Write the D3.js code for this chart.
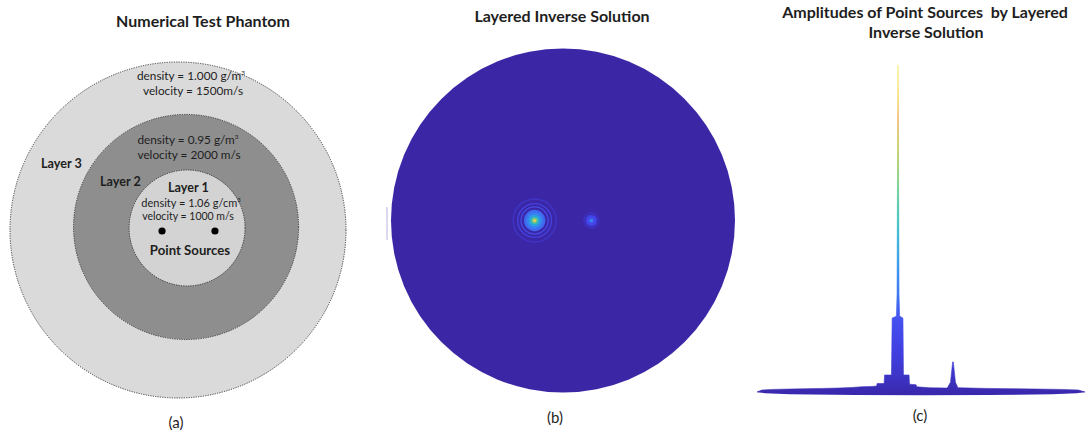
<!DOCTYPE html>
<html>
<head>
<meta charset="utf-8">
<script src="https://cdn.jsdelivr.net/npm/d3@7"></script>
<style>
  html, body { margin: 0; padding: 0; background: #ffffff; }
  svg { display: block; }
  text { font-family: Lato, "Open Sans", sans-serif; fill: #1e1e1e; }
</style>
</head>
<body>
<svg id="fig" width="1092" height="434"></svg>
<script>
// ---------- (a) phantom geometry, in phantom units (outer radius = 100) ----------
const layerNames   = ["Layer 3", "Layer 2", "Layer 1"];
const layerCx      = [0, 4.8, 5.4];
const layerCy      = [0, -1.8, -1.2];
const layerRadius  = [100, 67, 34.5];
const layerDensity = ["density = 1.000 g/m", "density = 0.95 g/m", "density = 1.06 g/cm"];
const layerVelocity = ["velocity = 1500m/s", "velocity = 2000 m/s", "velocity = 1000 m/s"];
const sourceX = [-9.5, 22];
const sourceY = [0.6, 0.6];

// ---------- (b) reconstructed image: source positions (unit disk) and ring levels ----------
const imageSourceX = [-0.165, 0.165];
const imageSourceAmp = [1.0, 0.5];
const ringRadius = [0.125, 0.098, 0.079, 0.062, 0.048, 0.034, 0.019, 0.009]; // fraction of disk radius
const ringLevel  = [0.12, 0.17, 0.22, 0.27, 0.33, 0.44, 0.62, 0.88];
const ringFilled = [false, false, false, true, true, true, true, true];

// ---------- (c) amplitude profile across the disk ----------
const profilePos = [-1.00, -0.97, -0.90, -0.80, -0.70, -0.60, -0.50, -0.42, -0.36, -0.30, -0.27,
  -0.268, -0.225, -0.222, -0.180, -0.176, -0.150, -0.146, -0.141, -0.139, -0.134, -0.130,
  -0.110, -0.107, -0.073, -0.070, -0.030, -0.026, 0.05, 0.16, 0.18, 0.193, 0.197, 0.21, 0.225,
  0.30, 0.40, 0.55, 0.70, 0.85, 0.96, 1.00];
const profileAmp = [0.000, 0.006, 0.008, 0.009, 0.010, 0.011, 0.012, 0.014, 0.016, 0.017, 0.018,
  0.026, 0.026, 0.052, 0.052, 0.226, 0.232, 0.30, 1.0, 1.0, 0.30, 0.232,
  0.226, 0.052, 0.052, 0.024, 0.022, 0.016, 0.013, 0.012, 0.03, 0.092, 0.092, 0.03, 0.013,
  0.012, 0.011, 0.010, 0.009, 0.008, 0.006, 0.000];
const floorPos = [-1.0, -0.95, -0.8, -0.4, 0.0, 0.4, 0.8, 0.95, 1.0];
const floorAmp = [0.0, -0.004, -0.007, -0.009, -0.010, -0.009, -0.007, -0.004, 0.0];

// Surface colour ramp (amplitude -> colour)
const rampStops = [0, 0.052, 0.128, 0.22, 0.281, 0.373, 0.465, 0.541, 0.618, 0.694, 0.771, 0.832, 0.893, 1.0];
const rampColors = ["#3a29ae", "#3d35c8", "#4140e2", "#4550ee", "#3e6ff2", "#3190ee", "#29acd8",
  "#31c0b0", "#5dc98a", "#9ac95e", "#cbc34a", "#f0ab5c", "#f4d452", "#f8f27a"];

const svg = d3.select("#fig");

// ======================= (a) =======================
const gA = svg.append("g");
const sA = d3.scaleLinear().domain([-100, 100]).range([-168, 168]);
const ax = v => 178 + sA(v), ay = v => 230 + sA(v);
const layerFill = ["#dadada", "#8e8e8e", "#d3d3d3"];

gA.selectAll("circle.layer")
  .data(layerRadius)
  .join("circle")
  .attr("class", "layer")
  .attr("cx", (d, i) => ax(layerCx[i]))
  .attr("cy", (d, i) => ay(layerCy[i]))
  .attr("r", d => sA(d) - sA(0))
  .attr("fill", (d, i) => layerFill[i])
  .attr("stroke", "#2a2a2a")
  .attr("stroke-width", 0.9)
  .attr("stroke-dasharray", "1.2 1.2");

gA.selectAll("circle.src")
  .data(sourceX)
  .join("circle")
  .attr("class", "src")
  .attr("cx", d => ax(d))
  .attr("cy", (d, i) => ay(sourceY[i]))
  .attr("r", 3.6)
  .attr("fill", "#000");

gA.append("text").attr("x", 203).attr("y", 27).attr("text-anchor", "middle")
  .attr("font-size", 16).attr("font-weight", 700).text("Numerical Test Phantom");

// density / velocity labels with superscript 3
const propX = [191, 188, 191];
const propY = [80, 144, 207];
const propSize = [11.8, 11.8, 11];
layerDensity.forEach((t, i) => {
  const tx = gA.append("text").attr("x", propX[i]).attr("y", propY[i]).attr("text-anchor", "middle")
    .attr("font-size", propSize[i]);
  tx.append("tspan").text(t);
  tx.append("tspan").attr("dy", -5).attr("font-size", propSize[i] * 0.55).text("3");
  gA.append("text").attr("x", propX[i] + (i === 1 ? 1 : i === 2 ? -3 : 2)).attr("y", propY[i] + (i === 2 ? 13 : 15))
    .attr("text-anchor", "middle").attr("font-size", propSize[i] - (i === 2 ? 0.5 : 0)).text(layerVelocity[i]);
});

const nameX = [41, 100, 168];
const nameY = [168, 186, 192];
layerNames.forEach((t, i) => {
  gA.append("text").attr("x", nameX[i]).attr("y", nameY[i]).attr("font-size", 12.6)
    .attr("font-weight", 700).text(t);
});
gA.append("text").attr("x", 190).attr("y", 255).attr("text-anchor", "middle")
  .attr("font-size", 13.2).attr("font-weight", 700).text("Point Sources");
gA.append("text").attr("x", 176).attr("y", 428).attr("text-anchor", "middle")
  .attr("font-size", 15).text("(a)");

// ======================= (b) =======================
const gB = svg.append("g");
const diskR = 172;
const bcx = 563, bcy = 220.5;
const sB = d3.scaleLinear().domain([-1, 1]).range([bcx - diskR, bcx + diskR]);
const ramp = d3.scaleLinear().domain(rampStops).range(rampColors).clamp(true);

const defs = svg.append("defs");
defs.append("filter").attr("id", "soft").append("feGaussianBlur").attr("stdDeviation", 0.7);
defs.append("filter").attr("id", "edge").append("feGaussianBlur").attr("stdDeviation", 0.5);

gB.append("line").attr("x1", 387).attr("x2", 387).attr("y1", 207).attr("y2", 240)
  .attr("stroke", "#b9b2e2").attr("stroke-width", 1);
gB.append("circle").attr("cx", bcx).attr("cy", bcy).attr("r", diskR)
  .attr("fill", "#3b28a6").attr("filter", "url(#edge)");

imageSourceX.forEach((sx, k) => {
  const g = gB.append("g").attr("filter", "url(#soft)");
  const amp = imageSourceAmp[k];
  const rings = ringRadius.map((r, i) => ({ r, level: ringLevel[i] * amp, filled: ringFilled[i] }))
    .filter(d => d.level > 0.1 || k === 0);
  g.selectAll("circle")
    .data(rings)
    .join("circle")
    .attr("cx", sB(sx))
    .attr("cy", bcy)
    .attr("r", d => (sB(d.r) - sB(0)) * (k === 0 ? 1 : 0.55))
    .attr("fill", d => d.filled ? ramp(d.level) : "none")
    .attr("stroke", d => d.filled ? "none" : ramp(d.level))
    .attr("stroke-opacity", (d, i) => i === 0 ? 0.55 : 0.85)
    .attr("stroke-width", 1.4);
});

gB.append("text").attr("x", 562).attr("y", 22).attr("text-anchor", "middle")
  .attr("font-size", 16).attr("font-weight", 700).text("Layered Inverse Solution");
gB.append("text").attr("x", 555).attr("y", 423).attr("text-anchor", "middle")
  .attr("font-size", 15).text("(b)");

// ======================= (c) =======================
const gC = svg.append("g");
const xC = d3.scaleLinear().domain([-1, 1]).range([757, 1085]);
const yC = d3.scaleLinear().domain([0, 1]).range([392, 65]);

const grad = defs.append("linearGradient").attr("id", "surf")
  .attr("gradientUnits", "userSpaceOnUse")
  .attr("x1", 0).attr("x2", 0).attr("y1", yC(0)).attr("y2", yC(1));
grad.selectAll("stop").data(rampStops).join("stop")
  .attr("offset", d => d)
  .attr("stop-color", (d, i) => rampColors[i]);

const upper = profilePos.map((p, i) => [p, profileAmp[i]]);
const lower = floorPos.map((p, i) => [p, floorAmp[i]]);

gC.append("path")
  .datum(lower)
  .attr("d", d3.area().x(d => xC(d[0])).y0(yC(0)).y1(d => yC(d[1])))
  .attr("fill", rampColors[0]);
gC.append("path")
  .datum(upper)
  .attr("d", d3.area().x(d => xC(d[0])).y0(yC(0)).y1(d => yC(d[1])))
  .attr("fill", "url(#surf)")
  .attr("stroke", "url(#surf)")
  .attr("stroke-width", 0.6);

gC.append("text").attr("x", 925).attr("y", 18).attr("text-anchor", "middle")
  .attr("font-size", 16).attr("font-weight", 700).attr("xml:space", "preserve")
  .text("Amplitudes of Point Sources  by Layered");
gC.append("text").attr("x", 926).attr("y", 38).attr("text-anchor", "middle")
  .attr("font-size", 16).attr("font-weight", 700).text("Inverse Solution");
gC.append("text").attr("x", 920).attr("y", 421).attr("text-anchor", "middle")
  .attr("font-size", 15).text("(c)");
</script>
</body>
</html>
